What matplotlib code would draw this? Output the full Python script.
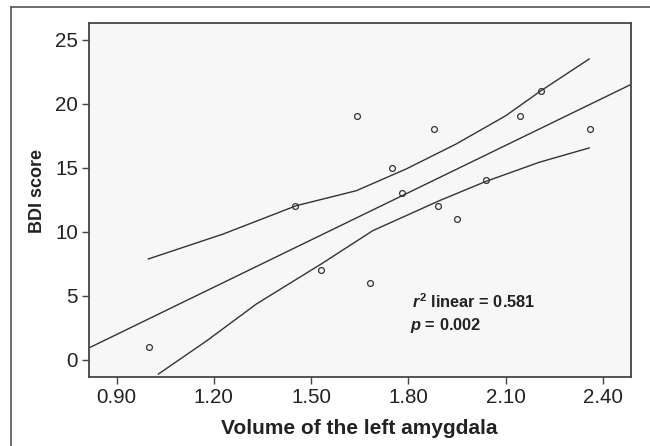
import numpy as np
import matplotlib
matplotlib.use("Agg")
import matplotlib.pyplot as plt
from matplotlib.lines import Line2D

plt.rcParams["font.family"] = ["Liberation Sans", "DejaVu Sans"]
plt.rcParams["mathtext.fontset"] = "custom"
plt.rcParams["mathtext.rm"] = "Liberation Sans:bold"
plt.rcParams["mathtext.it"] = "Liberation Sans:italic:bold"
plt.rcParams["mathtext.bf"] = "Liberation Sans:bold"

# scatter data (volume of left amygdala vs BDI score)
volume = [1.00, 1.45, 1.53, 1.64, 1.68, 1.75, 1.78, 1.88, 1.89, 1.95, 2.04, 2.145, 2.21, 2.36]
bdi = [1, 12, 7, 19, 6, 15, 13, 18, 12, 11, 14, 19, 21, 18]

# fitted line, read at the plot edges
fit_x = [0.818, 2.486]
fit_y = [0.96, 21.5]

# 95% confidence band of the mean
ci_up_x = [0.998, 1.229, 1.454, 1.639, 1.793, 1.947, 2.10, 2.208, 2.357]
ci_up_y = [7.87, 9.82, 12.03, 13.2, 14.9, 16.85, 19.06, 21.0, 23.49]
ci_lo_x = [1.029, 1.178, 1.331, 1.531, 1.69, 1.895, 2.039, 2.203, 2.357]
ci_lo_y = [-1.12, 1.48, 4.35, 7.48, 10.08, 12.42, 13.93, 15.42, 16.54]

xticks = [0.90, 1.20, 1.50, 1.80, 2.10, 2.40]
yticks = [0, 5, 10, 15, 20, 25]

W, H = 650, 446
fig = plt.figure(figsize=(6.5, 4.46), dpi=100)

# outer frame (left + top visible)
fig.add_artist(Line2D([11/W, 11/W], [0, 1 - 7/H], color="#555555", lw=1.2))
fig.add_artist(Line2D([11/W, 1], [1 - 7/H, 1 - 7/H], color="#555555", lw=1.2))

ax = fig.add_axes([89/W, 1 - 377/H, (631 - 89)/W, (377 - 23)/H])
ax.set_facecolor("#f7f7f7")
ax.set_xlim(0.815, 2.486)
ax.set_ylim(-1.35, 26.3)

lc = "#333333"
ax.plot(fit_x, fit_y, color=lc, lw=1.0)
ax.plot(ci_up_x, ci_up_y, color=lc, lw=1.0)
ax.plot(ci_lo_x, ci_lo_y, color=lc, lw=1.0)
ax.plot(volume, bdi, "o", ms=4.2, mfc="none", mec=lc, mew=0.9)

ax.set_xticks(xticks)
ax.set_xticklabels(["%.2f" % v for v in xticks])
ax.set_yticks(yticks)
ax.tick_params(labelsize=14.8, length=5, width=1.0, color="#444444",
               labelcolor="#222222", pad=3)
for s in ax.spines.values():
    s.set_color("#444444")
    s.set_linewidth(1.3)

ax.text(1.812, 4.06, r"$r^{2}$ linear = 0.581", fontsize=11.8, fontweight="bold",
        color="#222222", va="baseline")
ax.text(1.806, 2.34, r"$p$ = 0.002", fontsize=11.8, fontweight="bold",
        color="#222222", va="baseline")

fig.text(359/W, 1 - 428/H, "Volume of the left amygdala", fontsize=15,
         fontweight="bold", color="#222222", ha="center", va="center")
fig.text(37/W, 1 - 191/H, "BDI score", fontsize=13, fontweight="bold",
         color="#222222", ha="center", va="center", rotation=90)

fig.savefig("out.png", dpi=100)
